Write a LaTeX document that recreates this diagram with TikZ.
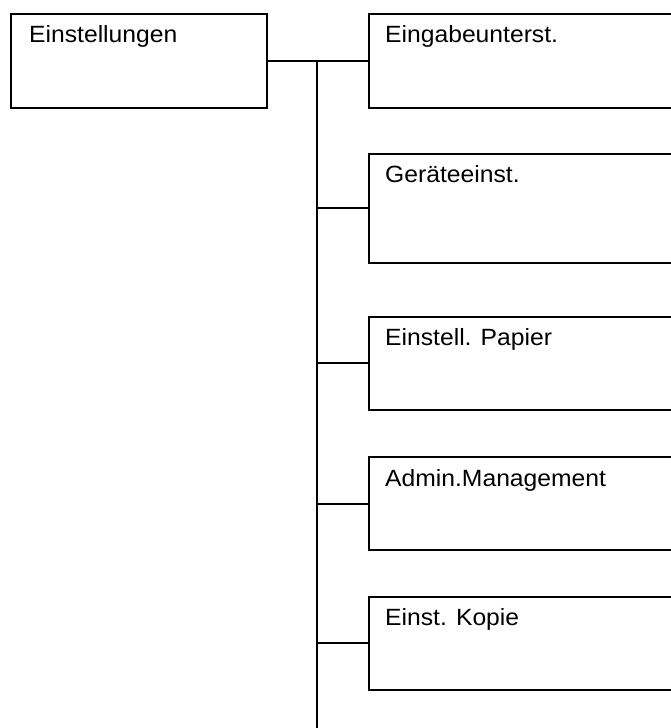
\documentclass[tikz,border=0pt]{standalone}
\usepackage{fontspec}
\setmainfont{Liberation Sans}[FakeStretch=1.05]
\begin{document}
\begin{tikzpicture}[x=1pt,y=-1pt,
  menubox/.style={draw=black, line width=2.2pt, rectangle, inner sep=0pt,
    anchor=north west, minimum width=#1},
  menubox/.default=320,
  link/.style={draw=black, line width=2.2pt},
  caption/.style={font=\fontsize{23.5}{27}\selectfont, anchor=base west, inner sep=0pt}]
  \useasboundingbox (0,0) rectangle (670,728);

  % top-level menu
  \node[menubox=256, minimum height=94] (root) at (10,13) {};
  \node[caption] (roottxt) at (29,42.7) {Einstellungen};

  % sub-menus
  \node[menubox, minimum height=94]  (m1) at (368,13)    {};
  \node[menubox, minimum height=109] (m2) at (368,152.7) {};
  \node[menubox, minimum height=93]  (m3) at (368,315.7) {};
  \node[menubox, minimum height=93]  (m4) at (368,456)   {};
  \node[menubox, minimum height=93]  (m5) at (368,595.7) {};

  \node[caption] (t1) at (385,42.7)  {Eingabeunterst.};
  \node[caption] (t2) at (385,182.5) {Geräteeinst.};
  \node[caption] (t3) at (385,345.5) {Einstell. Papier};
  \node[caption] (t4) at (385,486)   {Admin.Management};
  \node[caption] (t5) at (385,625.5) {Einst. Kopie};

  % tree connectors
  \coordinate (bottom) at (317,729);
  \coordinate (top) at (root.east -| bottom);
  \path[link] (top) -- (bottom);
  \path[link] (root.east) -- (top);
  \foreach \m in {m1,m2,m3,m4,m5}
    \path[link] (\m.west) -- (top |- \m.west);
\end{tikzpicture}
\end{document}
